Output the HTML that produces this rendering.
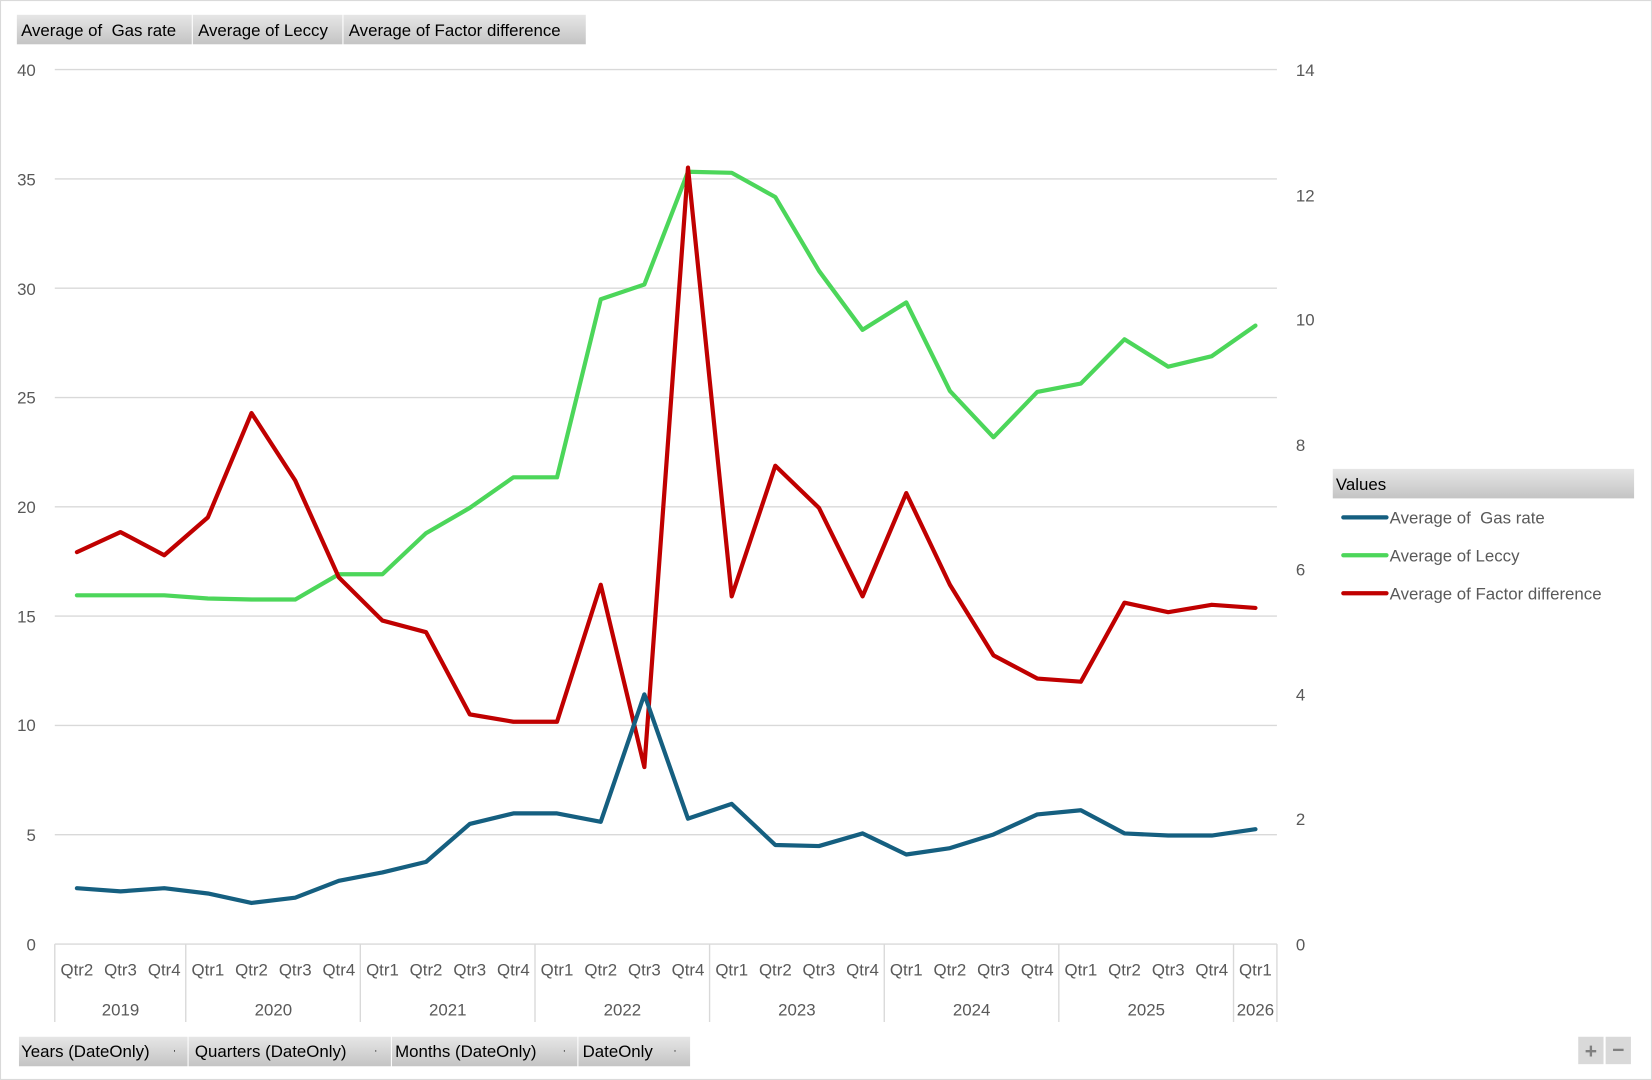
<!DOCTYPE html>
<html><head><meta charset="utf-8"><style>
html,body{margin:0;padding:0;background:#fff;}
svg{display:block;font-family:"Liberation Sans",sans-serif;}
</style></head><body>
<svg width="1652" height="1080" viewBox="0 0 1568 1025" xmlns="http://www.w3.org/2000/svg">
<defs>
<linearGradient id="g" x1="0" y1="0" x2="0" y2="1"><stop offset="0" stop-color="#e6e6e6"/><stop offset="1" stop-color="#c4c4c4"/></linearGradient>
</defs>
<rect x="0.5" y="0.5" width="1567" height="1024" fill="#fff" stroke="#d9d9d9"/>
<g font-size="16" fill="#000">
<rect x="16" y="14" width="166" height="28" fill="url(#g)"/>
<rect x="183" y="14" width="142" height="28" fill="url(#g)"/>
<rect x="326" y="14" width="230" height="28" fill="url(#g)"/>
<text x="20" y="34">Average of&#160; Gas rate</text>
<text x="188" y="34">Average of Leccy</text>
<text x="331" y="34">Average of Factor difference</text>
</g>
<g stroke="#d9d9d9" stroke-width="1.3">
<line x1="52" x2="1212" y1="66" y2="66"/>
<line x1="52" x2="1212" y1="169.75" y2="169.75"/>
<line x1="52" x2="1212" y1="273.5" y2="273.5"/>
<line x1="52" x2="1212" y1="377.25" y2="377.25"/>
<line x1="52" x2="1212" y1="481" y2="481"/>
<line x1="52" x2="1212" y1="584.75" y2="584.75"/>
<line x1="52" x2="1212" y1="688.5" y2="688.5"/>
<line x1="52" x2="1212" y1="792.25" y2="792.25"/>
<line x1="52" x2="1212" y1="896" y2="896"/>
</g>
<g stroke="#d9d9d9" stroke-width="1.3">
<line x1="52" x2="52" y1="896" y2="970"/>
<line x1="176.3" x2="176.3" y1="896" y2="970"/>
<line x1="342" x2="342" y1="896" y2="970"/>
<line x1="507.8" x2="507.8" y1="896" y2="970"/>
<line x1="673.5" x2="673.5" y1="896" y2="970"/>
<line x1="839.3" x2="839.3" y1="896" y2="970"/>
<line x1="1005" x2="1005" y1="896" y2="970"/>
<line x1="1170.8" x2="1170.8" y1="896" y2="970"/>
<line x1="1212" x2="1212" y1="896" y2="970"/>
</g>
<g font-size="16" fill="#595959" text-anchor="end">
<text x="34" y="72">40</text><text x="34" y="176">35</text><text x="34" y="280">30</text>
<text x="34" y="383">25</text><text x="34" y="487">20</text><text x="34" y="591">15</text>
<text x="34" y="694">10</text><text x="34" y="798">5</text><text x="34" y="902">0</text>
</g>
<g font-size="16" fill="#595959">
<text x="1230" y="72">14</text><text x="1230" y="191">12</text><text x="1230" y="309">10</text>
<text x="1230" y="428">8</text><text x="1230" y="546">6</text><text x="1230" y="665">4</text>
<text x="1230" y="783">2</text><text x="1230" y="902">0</text>
</g>
<g font-size="16" fill="#595959" text-anchor="middle">
<text x="73" y="926">Qtr2</text><text x="114.4" y="926">Qtr3</text><text x="155.9" y="926">Qtr4</text>
<text x="197.3" y="926">Qtr1</text><text x="238.7" y="926">Qtr2</text><text x="280.2" y="926">Qtr3</text><text x="321.6" y="926">Qtr4</text>
<text x="363" y="926">Qtr1</text><text x="404.4" y="926">Qtr2</text><text x="445.9" y="926">Qtr3</text><text x="487.3" y="926">Qtr4</text>
<text x="528.7" y="926">Qtr1</text><text x="570.2" y="926">Qtr2</text><text x="611.6" y="926">Qtr3</text><text x="653" y="926">Qtr4</text>
<text x="694.5" y="926">Qtr1</text><text x="735.9" y="926">Qtr2</text><text x="777.3" y="926">Qtr3</text><text x="818.7" y="926">Qtr4</text>
<text x="860.2" y="926">Qtr1</text><text x="901.6" y="926">Qtr2</text><text x="943" y="926">Qtr3</text><text x="984.5" y="926">Qtr4</text>
<text x="1025.9" y="926">Qtr1</text><text x="1067.3" y="926">Qtr2</text><text x="1108.8" y="926">Qtr3</text><text x="1150.2" y="926">Qtr4</text>
<text x="1191.6" y="926">Qtr1</text>
<text x="114.4" y="964">2019</text><text x="259.5" y="964">2020</text><text x="425" y="964">2021</text>
<text x="590.7" y="964">2022</text><text x="756.4" y="964">2023</text><text x="922.2" y="964">2024</text>
<text x="1088" y="964">2025</text><text x="1191.6" y="964">2026</text>
</g>
<g fill="none" stroke-width="4" stroke-linejoin="round" stroke-linecap="round">
<polyline stroke="#4cd65a" points="73,565 114.4,565 155.9,565 197.3,568 238.7,569 280.2,569 321.6,545 363,545 404.4,506 445.9,482 487.3,453 528.7,453 570.2,284 611.6,270 653,163 694.5,164 735.9,187 777.3,257 818.7,313 860.2,287 901.6,371 943,415 984.5,372 1025.9,364 1067.3,322 1108.8,348 1150.2,338 1191.6,309"/>
<polyline stroke="#c00000" points="73,524 114.4,505 155.9,527 197.3,491 238.7,392 280.2,456 321.6,548 363,589 404.4,600 445.9,678 487.3,685 528.7,685 570.2,555 611.6,728 653,159 694.5,566 735.9,442 777.3,482 818.7,566 860.2,468 901.6,555 943,622 984.5,644 1025.9,647 1067.3,572 1108.8,581 1150.2,574 1191.6,577"/>
<polyline stroke="#155f80" points="73,843 114.4,846 155.9,843 197.3,848 238.7,857 280.2,852 321.6,836 363,828 404.4,818 445.9,782 487.3,772 528.7,772 570.2,780 611.6,659 653,777 694.5,763 735.9,802 777.3,803 818.7,791 860.2,811 901.6,805 943,792 984.5,773 1025.9,769 1067.3,791 1108.8,793 1150.2,793 1191.6,787"/>
</g>
<rect x="1265" y="445" width="286" height="28" fill="url(#g)"/>
<text x="1268" y="465" font-size="16" fill="#000">Values</text>
<g stroke-width="4" stroke-linecap="round">
<line x1="1275" x2="1316" y1="491" y2="491" stroke="#155f80"/>
<line x1="1275" x2="1316" y1="527" y2="527" stroke="#4cd65a"/>
<line x1="1275" x2="1316" y1="563" y2="563" stroke="#c00000"/>
</g>
<g font-size="16" fill="#595959">
<text x="1319" y="497">Average of&#160; Gas rate</text>
<text x="1319" y="533">Average of Leccy</text>
<text x="1319" y="569">Average of Factor difference</text>
</g>
<g font-size="16" fill="#000">
<rect x="18" y="984" width="160" height="28" fill="url(#g)"/>
<rect x="179" y="984" width="192" height="28" fill="url(#g)"/>
<rect x="372" y="984" width="176" height="28" fill="url(#g)"/>
<rect x="549" y="984" width="106" height="28" fill="url(#g)"/>
<text x="20" y="1003">Years (DateOnly)</text><text x="164" y="1000" font-size="10">·</text>
<text x="185" y="1003">Quarters (DateOnly)</text><text x="355" y="1000" font-size="10">·</text>
<text x="375" y="1003">Months (DateOnly)</text><text x="534" y="1000" font-size="10">·</text>
<text x="553" y="1003">DateOnly</text><text x="639" y="1000" font-size="10">·</text>
</g>
<rect x="1498" y="984" width="24" height="26" fill="#d9d9d9"/>
<rect x="1524" y="984" width="24" height="26" fill="#d9d9d9"/>
<text x="1510" y="1004" font-size="20" fill="#808080" text-anchor="middle" font-weight="bold">+</text>
<text x="1536" y="1003" font-size="20" fill="#808080" text-anchor="middle" font-weight="bold">−</text>
</svg>
</body></html>
